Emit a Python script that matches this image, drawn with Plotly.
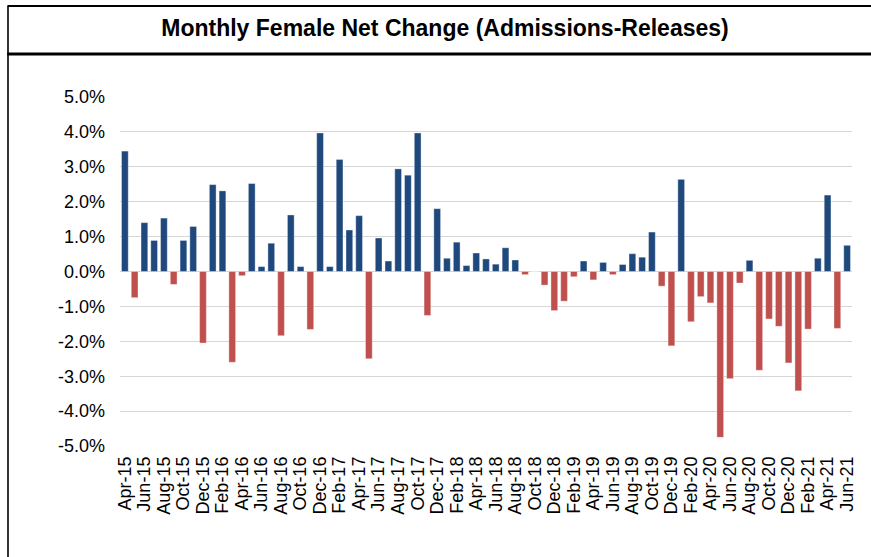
import plotly.graph_objects as go

months = [
    "Apr-15","May-15","Jun-15","Jul-15","Aug-15","Sep-15","Oct-15","Nov-15","Dec-15",
    "Jan-16","Feb-16","Mar-16","Apr-16","May-16","Jun-16","Jul-16","Aug-16","Sep-16","Oct-16","Nov-16","Dec-16",
    "Jan-17","Feb-17","Mar-17","Apr-17","May-17","Jun-17","Jul-17","Aug-17","Sep-17","Oct-17","Nov-17","Dec-17",
    "Jan-18","Feb-18","Mar-18","Apr-18","May-18","Jun-18","Jul-18","Aug-18","Sep-18","Oct-18","Nov-18","Dec-18",
    "Jan-19","Feb-19","Mar-19","Apr-19","May-19","Jun-19","Jul-19","Aug-19","Sep-19","Oct-19","Nov-19","Dec-19",
    "Jan-20","Feb-20","Mar-20","Apr-20","May-20","Jun-20","Jul-20","Aug-20","Sep-20","Oct-20","Nov-20","Dec-20",
    "Jan-21","Feb-21","Mar-21","Apr-21","May-21","Jun-21",
]

# net change, percent
net_change = [
    3.45, -0.75, 1.40, 0.89, 1.53, -0.37, 0.89, 1.29, -2.05,
    2.49, 2.31, -2.60, -0.12, 2.52, 0.14, 0.81, -1.84, 1.62, 0.14, -1.66, 3.97,
    0.14, 3.21, 1.19, 1.60, -2.50, 0.96, 0.30, 2.94, 2.76, 3.97, -1.26, 1.80,
    0.38, 0.84, 0.17, 0.53, 0.36, 0.21, 0.68, 0.33, -0.09, 0.00, -0.39, -1.12,
    -0.85, -0.15, 0.30, -0.24, 0.26, -0.09, 0.20, 0.51, 0.41, 1.13, -0.42, -2.13,
    2.64, -1.44, -0.72, -0.90, -4.75, -3.07, -0.33, 0.32, -2.83, -1.36, -1.57, -2.62,
    -3.42, -1.65, 0.38, 2.19, -1.63, 0.75,
]

x_tick_labels = months[::2]
y_tick_values = [-5, -4, -3, -2, -1, 0, 1, 2, 3, 4, 5]
y_tick_labels = ["-5.0%", "-4.0%", "-3.0%", "-2.0%", "-1.0%", "0.0%",
                 "1.0%", "2.0%", "3.0%", "4.0%", "5.0%"]

title_text = "Monthly Female Net Change (Admissions-Releases)"

POS_COLOR = "#1F497D"
NEG_COLOR = "#C0504D"
bar_colors = [POS_COLOR if v >= 0 else NEG_COLOR for v in net_change]

W, H = 871, 557
L, R, T, B = 120, 19, 97, 111
plot_w = W - L - R
plot_h = H - T - B


def px_x(px):
    return (px - L) / plot_w


def px_y(py):
    return (H - B - py) / plot_h


fig = go.Figure()
fig.add_trace(go.Bar(
    x=months,
    y=net_change,
    marker=dict(color=bar_colors, line=dict(width=0.6, color="rgba(255,255,255,0.6)")),
    hovertemplate="%{x}: %{y:.2f}%<extra></extra>",
))

fig.update_layout(
    width=W, height=H,
    margin=dict(l=L, r=R, t=T, b=B),
    paper_bgcolor="white",
    plot_bgcolor="white",
    bargap=0.31,
    showlegend=False,
    font=dict(family="Liberation Sans, Arial, sans-serif", color="black"),
    title=dict(
        text="<b>" + title_text + "</b>",
        xref="container", yref="container",
        x=445 / W, y=1 - 28 / H,
        xanchor="center", yanchor="middle",
        font=dict(size=23, color="black", family="Liberation Sans, Arial, sans-serif"),
    ),
    xaxis=dict(
        type="category",
        categoryorder="array",
        categoryarray=months,
        tickmode="array",
        tickvals=x_tick_labels,
        ticktext=x_tick_labels,
        tickangle=-90,
        tickfont=dict(size=18, color="black"),
        showgrid=False,
        showline=False,
        zeroline=False,
        ticks="",
        ticklabelstandoff=6,
        range=[-0.5, len(months) - 0.5],
    ),
    yaxis=dict(
        range=[-5, 5],
        tickmode="array",
        tickvals=y_tick_values,
        ticktext=y_tick_labels,
        tickfont=dict(size=18, color="black"),
        showgrid=True,
        gridcolor="#d6d6d6",
        gridwidth=1.3,
        zeroline=False,
        showline=False,
        ticks="",
        ticklabelstandoff=14,
    ),
)

# frame lines: top border, left border, title separator
fig.add_shape(type="line", xref="paper", yref="paper",
              x0=px_x(8), x1=px_x(W + 5), y0=px_y(6), y1=px_y(6),
              line=dict(color="black", width=1.8))
fig.add_shape(type="line", xref="paper", yref="paper",
              x0=px_x(8), x1=px_x(8), y0=px_y(5.2), y1=px_y(H + 5),
              line=dict(color="black", width=1.6))
fig.add_shape(type="line", xref="paper", yref="paper",
              x0=px_x(7.2), x1=px_x(W + 5), y0=px_y(54), y1=px_y(54),
              line=dict(color="black", width=3))

fig.write_html(
    "out.html",
    config={"displayModeBar": False},
    post_script="document.body.style.margin='0';document.body.style.overflow='hidden';",
)
